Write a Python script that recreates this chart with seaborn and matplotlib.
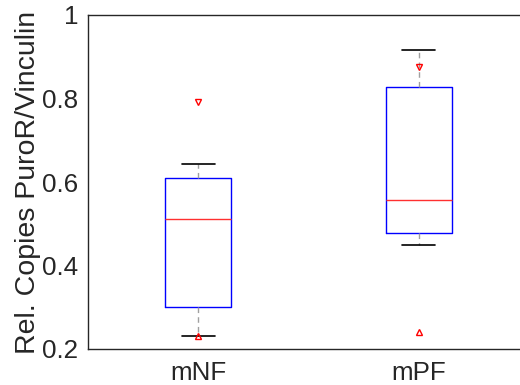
import numpy as np
import pandas as pd
import matplotlib
matplotlib.use("Agg")
import matplotlib.pyplot as plt
import seaborn as sns

# Data (five-number summaries)
groups = ["mNF", "mPF"]
mNF_values = [0.230, 0.301, 0.512, 0.610, 0.643]
mPF_values = [0.450, 0.478, 0.558, 0.827, 0.916]
notch_low = [0.232, 0.241]
notch_high = [0.791, 0.876]
yticks = [0.2, 0.4, 0.6, 0.8, 1.0]
yticklabels = ["0.2", "0.4", "0.6", "0.8", "1"]

df = pd.DataFrame({
    "group": ["mNF"] * len(mNF_values) + ["mPF"] * len(mPF_values),
    "value": mNF_values + mPF_values,
})

sns.set_style("white")
plt.rcParams["font.family"] = ["Liberation Sans", "DejaVu Sans"]

fig = plt.figure(figsize=(5.2, 3.85), dpi=100)
ax = fig.add_axes([88 / 520, 36 / 385, 441 / 520, 334 / 385])

sns.boxplot(
    data=df, x="group", y="value", order=groups, ax=ax,
    width=0.3, whis=1.5, fill=False, showfliers=False,
    boxprops=dict(color="#0000ff", linewidth=1.0),
    medianprops=dict(color="#ff3030", linewidth=1.0),
    whiskerprops=dict(color="#a0a0a0", linewidth=1.0, linestyle=(0, (4, 3))),
    capprops=dict(color="#000000", linewidth=1.2),
)

# notch markers
xs = np.arange(len(groups))
ax.plot(xs, notch_high, linestyle="none", marker="v", markersize=4,
        markerfacecolor="none", markeredgecolor="#ff0000", markeredgewidth=1.0)
ax.plot(xs, notch_low, linestyle="none", marker="^", markersize=4,
        markerfacecolor="none", markeredgecolor="#ff0000", markeredgewidth=1.0)

ax.set_xlim(-0.5, 1.5)
ax.set_ylim(0.2, 1.0)
ax.set_yticks(yticks)
ax.set_yticklabels(yticklabels)
ax.set_xlabel("")
ax.set_ylabel("Rel. Copies PuroR/Vinculin", fontsize=20.5, color="#262626", labelpad=1)
ax.tick_params(axis="both", direction="in", length=5, width=1, colors="#262626",
               labelsize=18.7)
ax.tick_params(axis="y", pad=7)
ax.tick_params(axis="x", pad=9)
for s in ax.spines.values():
    s.set_color("#262626")
    s.set_linewidth(1.0)

fig.savefig("out.png", dpi=100)
